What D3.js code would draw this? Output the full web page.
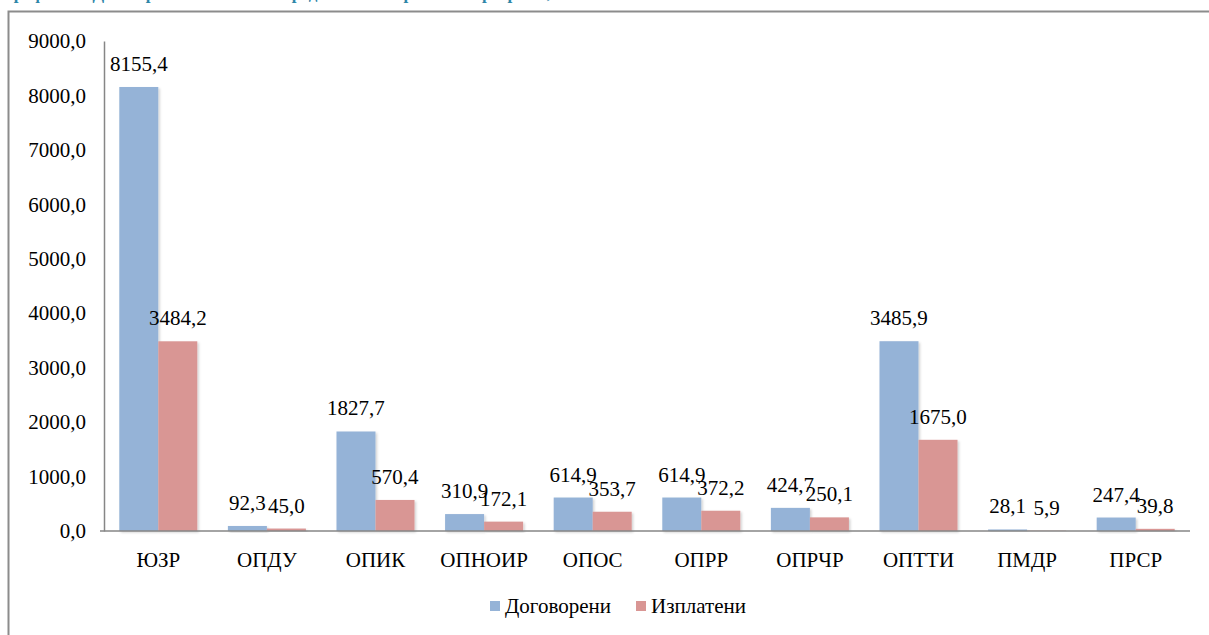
<!DOCTYPE html>
<html>
<head>
<meta charset="utf-8">
<script src="https://cdn.jsdelivr.net/npm/d3@7"></script>
<style>
  html, body { margin: 0; padding: 0; background: #fff; overflow: hidden; }
  svg text { font-family: "Liberation Serif", "Times New Roman", Tinos, "DejaVu Serif", serif !important; }
</style>
</head>
<body>
<svg id="chart" width="1209" height="635"></svg>
<script>
const categories = ["ЮЗР", "ОПДУ", "ОПИК", "ОПНОИР", "ОПОС", "ОПРР", "ОПРЧР", "ОПТТИ", "ПМДР", "ПРСР"];
const seriesNames = ["Договорени", "Изплатени"];
const contracted = [8155.4, 92.3, 1827.7, 310.9, 614.9, 614.9, 424.7, 3485.9, 28.1, 247.4];
const paid = [3484.2, 45.0, 570.4, 172.1, 353.7, 372.2, 250.1, 1675.0, 5.9, 39.8];
const yTicks = [0, 1000, 2000, 3000, 4000, 5000, 6000, 7000, 8000, 9000];
const colors = ["#95B3D7", "#D99694"];
const titleText = "Графика 1. Договорени и изплатени средства по оперативни програми, млн. лв.";

const svg = d3.select("#chart");
const fmt = v => d3.format(".1f")(v).replace(".", ",");
const FS = 21;

// defs: subtle bar shadow
const defs = svg.append("defs");
const f = defs.append("filter").attr("id", "shadow").attr("x", "-10%").attr("y", "-10%").attr("width", "130%").attr("height", "130%");
f.append("feDropShadow").attr("dx", 1.5).attr("dy", 1.5).attr("stdDeviation", 1.2).attr("flood-color", "#000").attr("flood-opacity", 0.18);

// title, clipped by the top edge as in the reference (only descenders visible)
svg.append("text")
  .attr("x", 4).attr("y", -1.5)
  .attr("font-size", 17).attr("font-weight", "bold")
  .attr("fill", "#2E86A8")
  .text(titleText);

// chart frame
svg.append("rect")
  .attr("x", 8.5).attr("y", 11.5).attr("width", 1215).attr("height", 640)
  .attr("fill", "none").attr("stroke", "#8c8c8c").attr("stroke-width", 2);

const plotLeft = 104, plotRight = 1190, plotTop = 41, plotBottom = 531;

const y = d3.scaleLinear().domain([0, 9000]).range([plotBottom, plotTop]);
const x = d3.scaleBand().domain(categories).range([plotLeft, plotRight]).padding(0);
const xSub = d3.scaleBand().domain(seriesNames).range([0, x.bandwidth()]).paddingInner(0).paddingOuter(0.392);

// y axis
const yAxis = d3.axisLeft(y).tickValues(yTicks).tickFormat(fmt).tickSize(0).tickPadding(18);
const gy = svg.append("g").attr("transform", `translate(${plotLeft},0)`).call(yAxis);
gy.attr("font-family", null).attr("font-size", null);
gy.select(".domain").attr("stroke", "#868686").attr("stroke-width", 1.5);
gy.selectAll("text").attr("font-size", FS).attr("fill", "#000");

// bars
const data = categories.map((c, i) => ({ cat: c, vals: [contracted[i], paid[i]] }));
const groups = svg.append("g").selectAll("g").data(data).join("g")
  .attr("transform", d => `translate(${x(d.cat)},0)`);

groups.selectAll("rect").data(d => d.vals.map((v, j) => ({ v, s: seriesNames[j], j })))
  .join("rect")
  .attr("x", d => xSub(d.s))
  .attr("y", d => y(d.v))
  .attr("width", xSub.bandwidth())
  .attr("height", d => y(0) - y(d.v))
  .attr("fill", d => colors[d.j])
  .attr("filter", "url(#shadow)");

groups.selectAll("text.lbl").data(d => d.vals.map((v, j) => ({ v, s: seriesNames[j], j })))
  .join("text").attr("class", "lbl")
  .attr("x", d => xSub(d.s) + xSub.bandwidth() / 2)
  .attr("y", d => y(d.v) - 16)
  .attr("text-anchor", "middle")
  .attr("font-size", FS)
  .attr("fill", "#000")
  .text(d => fmt(d.v));

// x axis
const xAxis = d3.axisBottom(x).tickSize(0).tickPadding(21);
const gx = svg.append("g").attr("transform", `translate(0,${plotBottom})`).call(xAxis);
gx.attr("font-family", null).attr("font-size", null);
gx.select(".domain").attr("stroke", "#868686").attr("stroke-width", 1.5).attr("d", `M${plotLeft - 4},0H${plotRight}`);
gx.selectAll("text").attr("font-size", FS).attr("fill", "#000");

// legend
const legend = svg.append("g").attr("transform", "translate(490,600)");
const legX = [0, 146];
seriesNames.forEach((s, i) => {
  const g = legend.append("g").attr("transform", `translate(${legX[i]},0)`);
  g.append("rect").attr("x", 0).attr("y", 1).attr("width", 10).attr("height", 10).attr("fill", colors[i]);
  g.append("text").attr("x", 15).attr("y", 13).attr("font-size", FS).attr("fill", "#000").text(s);
});
</script>
</body>
</html>
